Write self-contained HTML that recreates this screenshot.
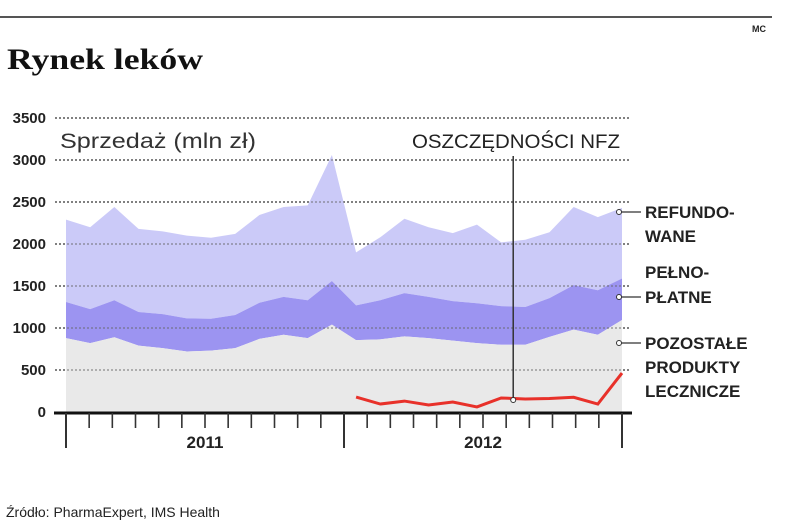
<!DOCTYPE html>
<html><head><meta charset="utf-8"><style>
body{margin:0;background:#fff;width:805px;height:529px;overflow:hidden;font-family:"Liberation Sans",sans-serif}
svg{display:block}
</style></head><body>
<svg id="chart" width="805" height="529">
<line x1="0" y1="17" x2="772" y2="17" stroke="#555" stroke-width="2"/>
<text x="752" y="32" font-size="9" font-weight="bold" fill="#222">MC</text>
<text x="7" y="69" font-family="Liberation Serif" font-weight="bold" font-size="30" fill="#111" textLength="196" lengthAdjust="spacingAndGlyphs">Rynek leków</text>
<g id="grid"></g>
<g id="areas"></g>
<g id="axes"></g>
<text x="60" y="148" font-size="21" fill="#333" textLength="196" lengthAdjust="spacingAndGlyphs">Sprzedaż (mln zł)</text>
<text x="412" y="148" font-size="19" fill="#222" textLength="208" lengthAdjust="spacingAndGlyphs">OSZCZĘDNOŚCI NFZ</text>
<g font-size="17" font-weight="bold" fill="#222">
<text x="645" y="218"><tspan x="645">REFUNDO-</tspan><tspan x="645" dy="24">WANE</tspan></text>
<text x="645" y="278"><tspan x="645">PEŁNO-</tspan><tspan x="645" dy="25">PŁATNE</tspan></text>
<text x="645" y="349"><tspan x="645">POZOSTAŁE</tspan><tspan x="645" dy="24">PRODUKTY</tspan><tspan x="645" dy="24">LECZNICZE</tspan></text>
</g>
<text x="6" y="517" font-size="14" fill="#222">Źródło: PharmaExpert, IMS Health</text>
</svg>
<script>
const yTicks=[0,500,1000,1500,2000,2500,3000,3500];
const yearLabels=["2011","2012"];
const total=[2290,2200,2440,2180,2150,2100,2075,2120,2345,2440,2460,3060,1900,2080,2300,2200,2130,2230,2020,2050,2140,2440,2320,2430];
const middle=[1310,1225,1330,1190,1165,1115,1110,1155,1300,1370,1330,1560,1270,1330,1415,1370,1320,1295,1260,1250,1355,1510,1450,1590];
const bottom=[880,820,890,790,760,720,730,760,870,920,880,1040,855,865,900,880,850,820,800,800,895,980,920,1095];
const redIdx=[12,13,14,15,16,17,18,19,20,21,22,23];
const redVals=[178,95,130,83,119,60,167,155,160,175,95,464];
const annotationIdx=18.5;
const NS="http://www.w3.org/2000/svg";
const X0=66,X1=622,Y0=412,YK=0.084;
const x=i=>X0+i*(X1-X0)/(total.length-1);
const y=v=>Y0-v*YK;
function mk(tag,attrs,parent){const e=document.createElementNS(NS,tag);for(const k in attrs)e.setAttribute(k,attrs[k]);parent.appendChild(e);return e;}
const grid=document.getElementById('grid'),areas=document.getElementById('areas'),axes=document.getElementById('axes');
yTicks.forEach(t=>{
 if(t>0){const l=mk('line',{x1:55,x2:630,y1:y(t),y2:y(t),stroke:'#666','stroke-width':1.6,'stroke-dasharray':'2 2'},grid);
 
 }
 const tx=mk('text',{x:46,y:y(t)+5,'text-anchor':'end','font-size':15,'font-weight':'bold',fill:'#222'},axes);
 tx.textContent=t;
 
 
});
function band(upper,lower,fill,name){
 let d='M'+upper.map((v,i)=>x(i)+','+y(v)).join(' L');
 for(let i=lower.length-1;i>=0;i--)d+=' L'+x(i)+','+y(lower[i]);
 const p=mk('path',{d:d+'Z',fill:fill},areas);
 
 
}
const zeros=total.map(()=>0);
band(total,middle,'#cbcaf8','area-refundowane');
band(middle,bottom,'#9c94f1','area-pelnoplatne');
band(bottom,zeros,'#e9e9e9','area-pozostale');
yTicks.forEach(t=>{if(t>0){const l=mk('line',{x1:55,x2:630,y1:y(t),y2:y(t),stroke:'#666','stroke-width':1.4,'stroke-dasharray':'2 2',opacity:0.6},areas);
 
 }});
const red=mk('polyline',{points:redIdx.map((i,k)=>x(i)+','+y(redVals[k])).join(' '),fill:'none',stroke:'#e8312a','stroke-width':3},areas);


const ax=x(annotationIdx);
const al=mk('line',{x1:ax,x2:ax,y1:156,y2:400,stroke:'#333','stroke-width':1.5},axes);


const ac=mk('circle',{cx:ax,cy:400,r:2.5,fill:'#fff',stroke:'#333','stroke-width':1},axes);


const base=mk('line',{x1:54,x2:632,y1:Y0+1,y2:Y0+1,stroke:'#111','stroke-width':3},axes);


const nT=total.length+1;
for(let k=0;k<nT;k++){
 const tx=X0+k*(X1-X0)/(nT-1);
 const big=(k===0||k===12||k===24);
 const t=mk('line',{x1:tx,x2:tx,y1:Y0+1,y2:big?448:428,stroke:'#333','stroke-width':big?2:1.6},axes);
 
 
}
yearLabels.forEach((lab,i)=>{
 const cx=X0+(i*12+6)*(X1-X0)/(nT-1);
 const t=mk('text',{x:cx,y:448,'text-anchor':'middle','font-size':17,'font-weight':'bold',fill:'#222'},axes);
 t.textContent=lab;
 
 
});
[212,297,343].forEach(cy=>{
 const l=mk('line',{x1:621,x2:641,y1:cy,y2:cy,stroke:'#333','stroke-width':1.3},axes);
 
 
 const c=mk('circle',{cx:619,cy:cy,r:2.5,fill:'#fff',stroke:'#333','stroke-width':1},axes);
 
 
});
</script>
</body></html>
